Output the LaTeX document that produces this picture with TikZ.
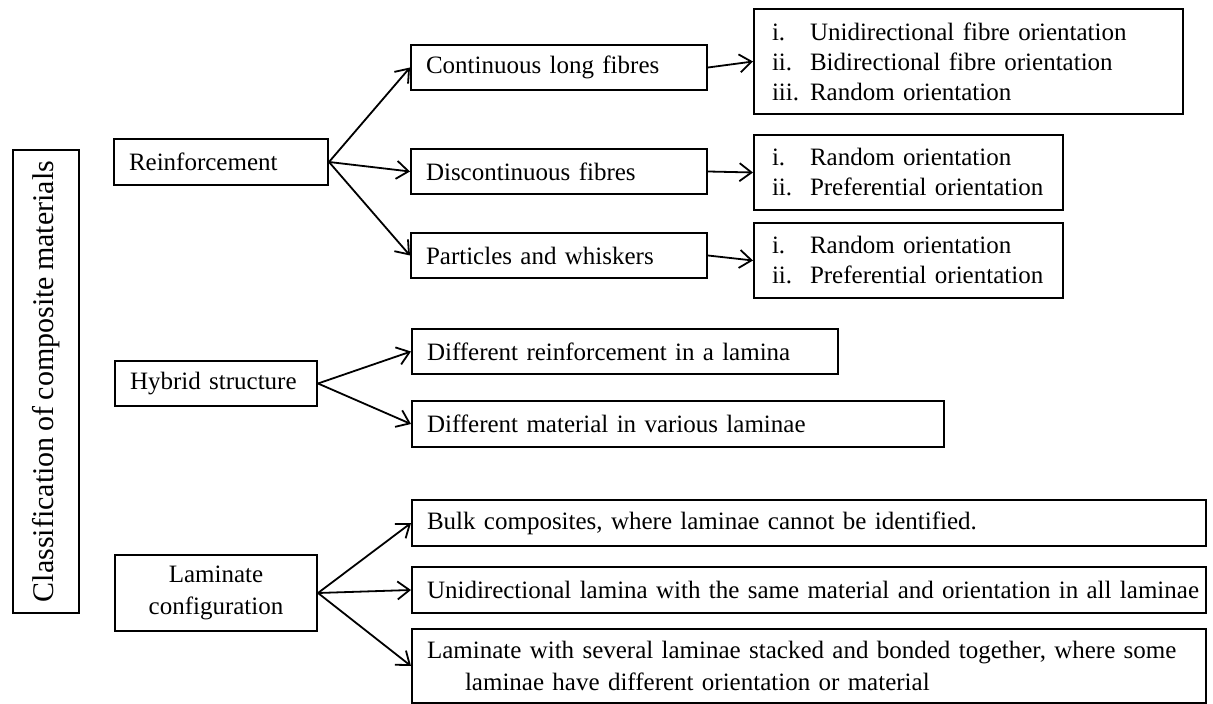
\documentclass[tikz,border=0pt]{standalone}
\usepackage{fontspec}
\setmainfont{Liberation Serif}[WordSpace=0.8]
\usetikzlibrary{arrows.meta}
\newcommand{\enumlbl}[1]{\makebox[19pt][l]{#1}}
\tikzset{
  box/.style={draw,line width=1pt,inner xsep=7.5pt,inner ysep=0pt,align=left,
    font=\fontsize{12.5}{15}\selectfont},
  listbox/.style={box,inner xsep=9pt},
  widebox/.style={box,inner xsep=4pt,text width=389pt},
  link/.style={->,line width=0.9pt}
}
\begin{document}
\begin{tikzpicture}[x=0.5pt,y=-0.5pt,>={Straight Barb[length=6pt,width=9pt]}]
\useasboundingbox (0,0) rectangle (1213,704);
\node[draw,line width=1pt,rotate=90,minimum width=231.5pt,minimum height=33pt,
  inner sep=0pt,font=\fontsize{15}{18}\selectfont] (title) at (46,381.5)
  {Classification of composite materials};

\node[box,text width=92pt,minimum height=23pt] (reinf) at (221,162) {Reinforcement};
\node[box,text width=86pt,minimum height=22.5pt] (hybrid) at (216,383.5) {Hybrid structure};
\node[box,text width=86pt,minimum height=38pt,align=center,
  font=\fontsize{12.5}{16}\selectfont] (lamconf) at (216,593) {Laminate\\configuration};

\node[box,text width=133pt,minimum height=22.5pt] (cont) at (559,67.5) {Continuous long fibres};
\node[box,text width=133pt,minimum height=22.5pt] (disc) at (559,171.5) {Discontinuous fibres};
\node[box,text width=133pt,minimum height=22.5pt] (part) at (559,255.5) {Particles and whiskers};

\node[listbox,text width=196.5pt,minimum height=52.5pt] (contlist) at (968.5,61.5)
  {\enumlbl{i.}Unidirectional fibre orientation\\
   \enumlbl{ii.}Bidirectional fibre orientation\\
   \enumlbl{iii.}Random orientation};
\node[listbox,text width=136.5pt,minimum height=37.5pt] (disclist) at (908.5,172.5)
  {\enumlbl{i.}Random orientation\\
   \enumlbl{ii.}Preferential orientation};
\node[listbox,text width=136.5pt,minimum height=37.5pt] (partlist) at (908.5,260.5)
  {\enumlbl{i.}Random orientation\\
   \enumlbl{ii.}Preferential orientation};

\node[box,text width=198pt,minimum height=22.5pt] (diffreinf) at (625,351.5)
  {Different reinforcement in a lamina};
\node[box,text width=251pt,minimum height=23pt] (diffmat) at (678,424)
  {Different material in various laminae};

\node[widebox,minimum height=23pt] (bulk) at (809,523)
  {\hspace*{3.5pt}Bulk composites, where laminae cannot be identified.};
\node[widebox,minimum height=23pt] (unilam) at (809,590)
  {\hspace*{3.5pt}\mbox{Unidirectional lamina with the same material and orientation in all laminae}};
\node[widebox,minimum height=37pt,font=\fontsize{12.5}{16}\selectfont] (stacked) at (809,666)
  {\hspace*{3.5pt}Laminate with several laminae stacked and bonded together, where some\\
   \hspace*{22.5pt}laminae have different orientation or material};

\foreach \t in {cont,disc,part}
  \draw[link] (reinf.east) -- (\t.west);
\draw[link] (cont.east) -- (contlist.west);
\draw[link] (disc.east) -- (disclist.west);
\draw[link] (part.east) -- (partlist.west);
\foreach \t in {diffreinf,diffmat}
  \draw[link] (hybrid.east) -- (\t.west);
\foreach \t in {bulk,unilam,stacked}
  \draw[link] (lamconf.east) -- (\t.west);
\end{tikzpicture}
\end{document}
